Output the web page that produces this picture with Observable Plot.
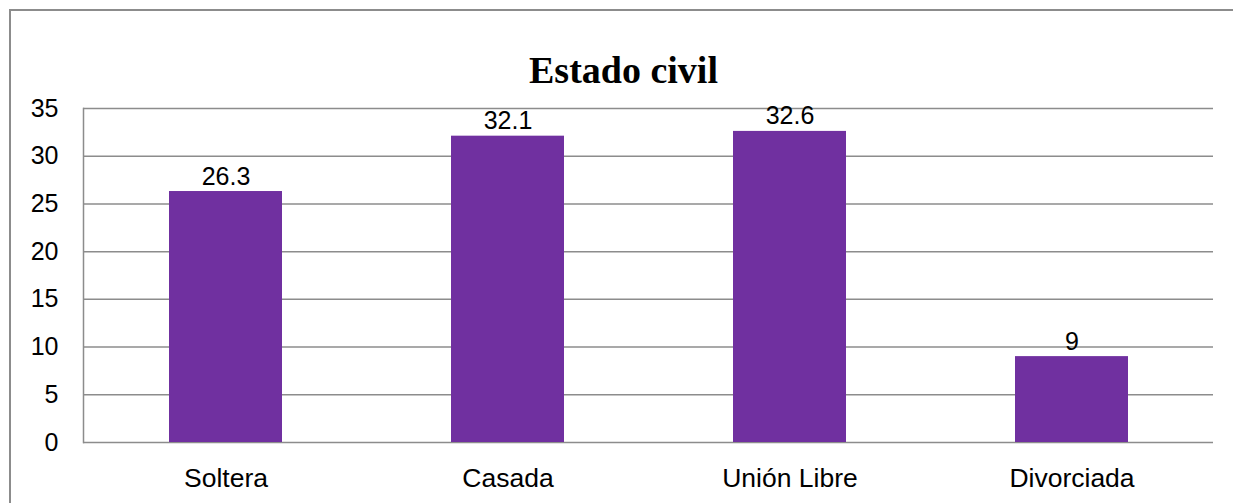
<!DOCTYPE html>
<html>
<head>
<meta charset="utf-8">
<script src="https://cdn.jsdelivr.net/npm/d3@7"></script>
<script src="https://cdn.jsdelivr.net/npm/@observablehq/plot@0.6"></script>
<style>
  html, body { margin: 0; padding: 0; background: #fff; overflow: hidden; }
  #wrap { position: relative; width: 1233px; height: 503px; }
  #frame { position: absolute; left: 9px; top: 9px; width: 1240px; height: 520px; border: 2px solid #8c8c8c; box-sizing: border-box; }
  #title { position: absolute; left: 7px; top: 51px; width: 1233px; text-align: center;
           font-family: "Liberation Serif", "Times New Roman", serif; font-weight: bold; font-size: 38px; line-height: 38px; color: #000; }
  #chart { position: absolute; left: 0; top: 0; }
</style>
</head>
<body>
<div id="wrap">
  <div id="frame"></div>
  <div id="chart"></div>
  <div id="title">Estado civil</div>
</div>
<script>
const categories = ["Soltera", "Casada", "Unión Libre", "Divorciada"];
const values = [26.3, 32.1, 32.6, 9];
const yTicks = [0, 5, 10, 15, 20, 25, 30, 35];

const data = categories.map((c, i) => ({category: c, value: values[i]}));
const font = "'Liberation Sans', Arial, sans-serif";
const grid = "#8c8c8c";

const chart = Plot.plot({
  width: 1233,
  height: 503,
  marginLeft: 83,
  marginRight: 20,
  marginTop: 108,
  marginBottom: 61,
  style: {fontFamily: font, fontSize: "25px", color: "#000", background: "transparent"},
  x: {domain: categories, paddingInner: 0.6, paddingOuter: 0.3, label: null},
  y: {domain: [0, 35], ticks: yTicks, label: null},
  marks: [
    Plot.ruleY(yTicks, {stroke: grid, strokeWidth: 1.5}),
    Plot.frame({anchor: "left", stroke: grid, strokeWidth: 1.5}),
    Plot.barY(data, {x: "category", y: "value", fill: "#7030A0"}),
    Plot.text(data, {x: "category", y: "value", text: d => String(d.value), lineAnchor: "bottom", dy: -7, fill: "#000", fontSize: 25}),
    Plot.axisX({tickSize: 0, tickPadding: 26, fontSize: 26.5, label: null}),
    Plot.axisY({ticks: yTicks, tickSize: 0, tickPadding: 25, fontSize: 25, label: null})
  ]
});
document.getElementById("chart").appendChild(chart);
</script>
</body>
</html>
